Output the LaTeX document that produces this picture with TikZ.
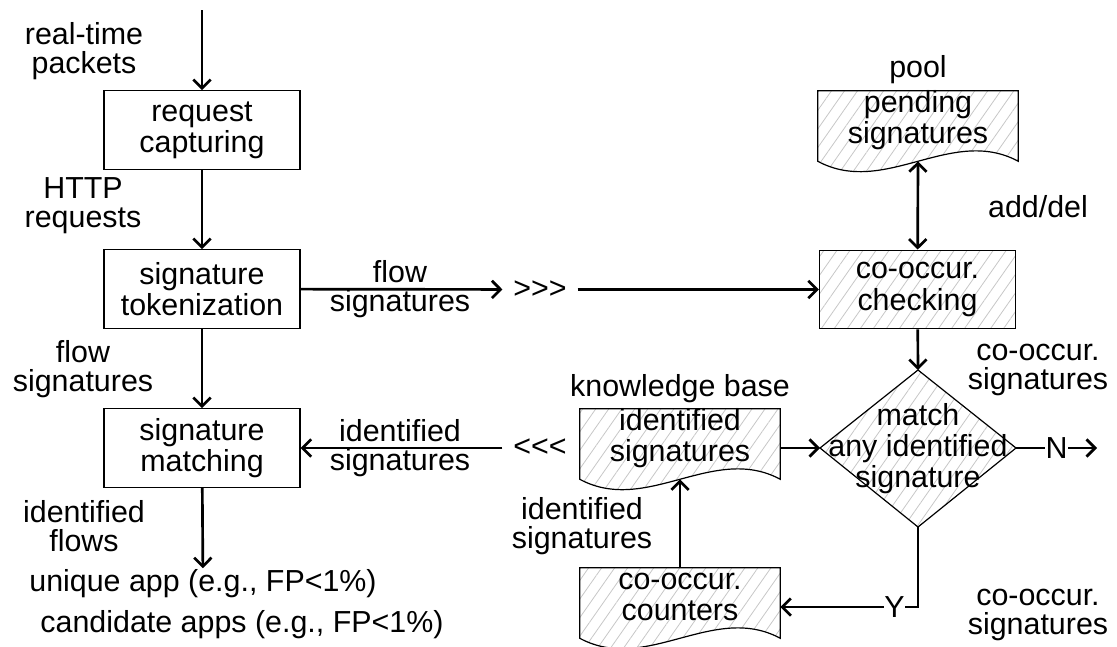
\documentclass[tikz,border=0pt]{standalone}
\usepackage{fontspec}
\setmainfont{Liberation Sans}
\usetikzlibrary{arrows.meta, patterns.meta}

\tikzset{
  box/.style={draw, line width=0.9pt, minimum width=147pt, minimum height=59pt, inner sep=0pt, align=center},
  hatch/.style={draw, line width=0.9pt, pattern={Lines[angle=55,distance=8pt,line width=0.6pt]}, pattern color=black!22},
  doc/.style={minimum width=150pt, minimum height=52.5pt, inner sep=0pt},
  txt/.style={align=center, inner sep=1pt, font=\fontsize{22.8pt}{22pt}\selectfont},
  shp/.style={font=\fontsize{22.8pt}{23.3pt}\selectfont},
  arr/.style={line width=2pt, -{Straight Barb[length=6.5pt,width=13pt]}},
  dblarr/.style={line width=2pt, {Straight Barb[length=6.5pt,width=13pt]}-{Straight Barb[length=6.5pt,width=13pt]}},
}
% document shape: flat top, wavy bottom
\newcommand{\docpath}[1]{(#1.north west) -- (#1.north east) -- (#1.south east)
  .. controls +(-67,-36) and +(67,36) .. (#1.south west) -- cycle}

\begin{document}
\begin{tikzpicture}[x=0.75pt, y=-0.75pt, font=\fontsize{22.8pt}{23.3pt}\selectfont]
\useasboundingbox (0,0) rectangle (1117,646);

%the left column
\coordinate (in) at (202,10);
\node[box] (req) at (202,130) {request\\capturing};
\node[box] (tok) at (202,289) {signature\\tokenization};
\node[box] (mat) at (202,448) {signature\\matching};
\node[txt] (uniq) at (203,584) {unique app (e.g., FP<1\%)};
\node[txt] (cand) at (242,625) {candidate apps (e.g., FP<1\%)};

\draw[arr] (in) -- (req);
\draw[arr] (req) -- (tok);
\draw[arr] (tok) -- (mat);
\draw[arr] (mat) -- (uniq);

\node[txt] (pkts) at (84,51) {real-time\\packets};
\node[txt] (http) at (83,206) {HTTP\\requests};
\node[txt] (flowl) at (83,369) {flow\\signatures};
\node[txt] (idfl) at (84,526) {identified\\flows};

%the pool
\node[doc] (pend) at (918,126) {};
\draw[hatch] \docpath{pend};
\node[shp, align=center, inner sep=0pt] (pendtxt) at ([yshift=4.5pt]pend.center) {pending\\signatures};
\node[txt] (pool) at (918,70) {pool};

\node[box, hatch] (check) at (917.5,289.5) {co-occur.\\checking};
\draw[dblarr] (pend.south) -- (check);
\node[txt] (adddel) at (1038,207) {add/del};

%the middle
\node[txt, inner xsep=8pt] (gt) at (540,289.5) {>\kern0pt>\kern0pt>};
\node[txt, inner xsep=8pt] (lt) at (540,448) {<\kern0pt<\kern0pt<};
\draw[arr] (tok) -- (gt);
\draw[arr] (gt) -- (check.west);
\draw[arr] (lt) -- (mat);
\node[txt] (flowm) at (400,289) {flow\\signatures};
\node[txt] (idsm) at (400,448) {identified\\signatures};

%the decision
\coordinate (mtop) at (918,370);
\coordinate (mright) at (1016,448);
\coordinate (mbot) at (918,527);
\coordinate (mleft) at (820,448);
\draw[hatch] (mtop) -- (mright) -- (mbot) -- (mleft) -- cycle;
\node[shp, align=center, inner sep=0pt] (match) at (918,449) {match\\any identified\\signature};
\draw[arr] (check) -- (mtop);
\node[txt] (cosig) at (1038,370) {co-occur.\\signatures};

\coordinate (nend) at (1097,448);
\draw[arr] (mright) -- node[txt, fill=white, inner sep=0.5pt] (nlbl) {N} (nend);

%the knowledge base
\node[doc] (idoc) at (680,444) {};
\draw[hatch] \docpath{idoc};
\node[shp, align=center, inner sep=0pt] (idoctxt) at ([yshift=4.5pt]idoc.center) {identified\\signatures};
\node[txt] (kb) at (680,389) {knowledge base};
\draw[arr] (mleft -| idoc.east) -- (mleft);

%the counters
\node[doc] (cnt) at (680,603) {};
\draw[hatch] \docpath{cnt};
\node[shp, align=center, inner sep=0pt] (cnttxt) at ([yshift=4.5pt]cnt.center) {co-occur.\\counters};
\draw[arr] (cnt) -- (idoc.south);
\node[txt] (idsl) at (582,526) {identified\\signatures};

\coordinate (ycorner) at (918,607);
\draw[arr] (mbot) -- (ycorner) -- node[txt, pos=0.17, fill=white, inner sep=0.5pt] (ylbl) {Y} (ycorner -| cnt.east);
\node[txt] (cosig2) at (1038,615) {co-occur.\\signatures};
\end{tikzpicture}
\end{document}
